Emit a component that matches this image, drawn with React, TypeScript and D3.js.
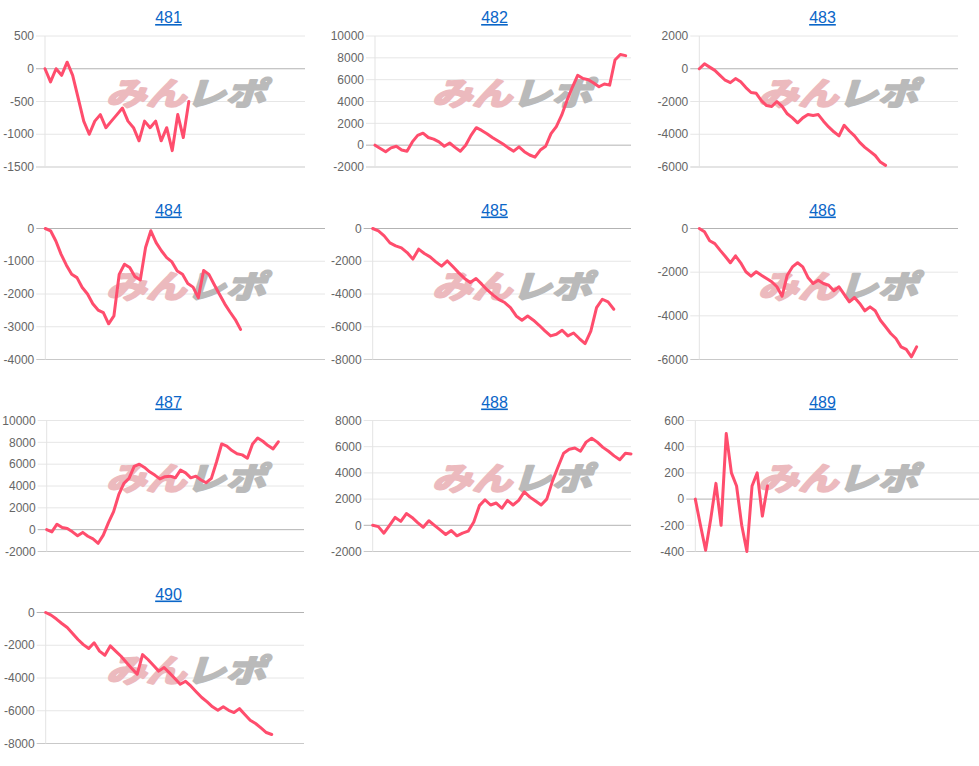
import React from 'react';
import * as d3 from 'd3';

const titles = ['481', '482', '483', '484', '485', '486', '487', '488', '489', '490'];

const s481 = [0, -200, 0, -100, 100, -100, -450, -800, -1000, -800, -700, -900, -800, -700, -600, -800, -900, -1100, -800, -900, -800, -1100, -900, -1250, -700, -1050, -500];
const s482 = [0, -300, -600, -250, -100, -450, -550, 300, 900, 1100, 700, 550, 300, -100, 200, -200, -550, 0, 900, 1600, 1350, 1050, 700, 400, 100, -250, -550, -150, -600, -900, -1100, -450, -100, 1050, 1700, 2750, 4100, 5300, 6400, 6100, 6000, 5700, 5350, 5600, 5500, 7800, 8300, 8200];
const s483 = [0, 300, 100, -100, -400, -700, -850, -600, -800, -1150, -1450, -1500, -1950, -2250, -2300, -2000, -2300, -2750, -3000, -3300, -3000, -2800, -2850, -2800, -3200, -3550, -3850, -4100, -3450, -3800, -4100, -4500, -4800, -5050, -5300, -5700, -5900];
const s484 = [0, -70, -380, -790, -1120, -1400, -1500, -1800, -2000, -2300, -2490, -2570, -2910, -2670, -1400, -1090, -1190, -1470, -1570, -580, -70, -430, -680, -890, -1020, -1300, -1400, -1680, -1790, -2110, -1280, -1400, -1710, -2010, -2300, -2550, -2780, -3080];
const s485 = [0, -150, -450, -880, -1060, -1180, -1470, -1870, -1260, -1530, -1730, -2040, -2300, -1980, -2340, -2710, -3050, -3300, -3050, -3400, -3770, -4070, -4340, -4520, -4830, -5340, -5600, -5340, -5600, -5910, -6250, -6560, -6460, -6210, -6560, -6380, -6720, -7030, -6270, -4830, -4320, -4480, -4930];
const s486 = [0, -150, -560, -690, -990, -1270, -1570, -1250, -1570, -1980, -2180, -1980, -2140, -2290, -2440, -2670, -3100, -2140, -1760, -1570, -1760, -2240, -2520, -2370, -2520, -2600, -2850, -2670, -3020, -3360, -3160, -3430, -3770, -3590, -3770, -4200, -4500, -4810, -5040, -5420, -5540, -5880, -5420];
const s487 = [0, -200, 500, 200, 100, -200, -550, -250, -600, -850, -1250, -500, 650, 1650, 3200, 4250, 4700, 5800, 6000, 5700, 5300, 5000, 4650, 4850, 4900, 4750, 5450, 5200, 4750, 4900, 4550, 4300, 4700, 6200, 7850, 7650, 7250, 6950, 6850, 6550, 7850, 8400, 8100, 7700, 7400, 8050];
const s488 = [0, -100, -600, 0, 600, 300, 900, 600, 200, -150, 350, 0, -350, -700, -400, -800, -600, -450, 250, 1500, 1950, 1550, 1700, 1300, 1900, 1550, 1900, 2550, 2150, 1850, 1550, 2000, 3350, 4450, 5500, 5800, 5900, 5650, 6350, 6650, 6350, 5950, 5650, 5300, 5000, 5500, 5450];
const s489 = [0, -200, -390, -150, 120, -200, 500, 200, 100, -200, -400, 100, 200, -130, 100];
const s490 = [0, -160, -400, -670, -920, -1280, -1650, -1960, -2200, -1850, -2360, -2610, -2040, -2360, -2670, -3050, -3420, -3770, -2570, -2870, -3220, -3580, -3360, -3690, -4030, -4380, -4200, -4500, -4850, -5190, -5460, -5760, -5970, -5760, -5970, -6110, -5870, -6230, -6580, -6780, -7050, -7330, -7450];

const t481 = [500, 0, -500, -1000, -1500];
const t482 = [10000, 8000, 6000, 4000, 2000, 0, -2000];
const t483 = [2000, 0, -2000, -4000, -6000];
const t484 = [0, -1000, -2000, -3000, -4000];
const t485 = [0, -2000, -4000, -6000, -8000];
const t486 = [0, -2000, -4000, -6000];
const t487 = [10000, 8000, 6000, 4000, 2000, 0, -2000];
const t488 = [8000, 6000, 4000, 2000, 0, -2000];
const t489 = [600, 400, 200, 0, -200, -400];
const t490 = [0, -2000, -4000, -6000, -8000];

// number of x-slots (category intervals) on each chart's x axis
const slotCounts = [47, 48, 50, 53, 45, 50, 50, 46, 55, 48];

const seriesList = [s481, s482, s483, s484, s485, s486, s487, s488, s489, s490];
const tickList = [t481, t482, t483, t484, t485, t486, t487, t488, t489, t490];

// layout
const COLS = [0, 326, 652];
const ROWS = [0, 192.5, 384.5, 576.5];
const LEFTS = [45, 49, 47.3, 45.3, 46.7, 47.3, 46.7, 46.7, 43.3, 45.7];
const RIGHTS = [305, 305, 306, 325, 305, 306, 304, 305, 327, 304];
const FONT = '"Liberation Sans", Arial, sans-serif';
const LINE_COLOR = '#ff4d6d';

function Watermark({ x, y }: { x: number; y: number }) {
  return (
    <g transform={`translate(${x},${y}) scale(1.14,0.9) skewX(-14)`}>
      <text
        x={0}
        y={0}
        fontFamily='"Noto Sans CJK JP", sans-serif'
        fontWeight={700}
        fontSize={35}
        strokeWidth={2.6}
        strokeLinejoin="round"
      >
        <tspan fill="#ecbabe" stroke="#ecbabe">みん</tspan>
        <tspan fill="#bababa" stroke="#bababa">レポ</tspan>
      </text>
    </g>
  );
}

function Panel({ i }: { i: number }) {
  const col = i % 3;
  const row = Math.floor(i / 3);
  const x0 = COLS[col];
  const rowTop = ROWS[row];
  const left = x0 + LEFTS[i];
  const right = x0 + RIGHTS[i];
  const top = rowTop + 36;
  const bottom = rowTop + 167;
  const ticks = tickList[i];
  const data = seriesList[i];
  const yMin = d3.min(ticks) as number;
  const yMax = d3.max(ticks) as number;
  const y = d3.scaleLinear().domain([yMin, yMax]).range([bottom, top]);
  const x = d3.scaleLinear().domain([0, slotCounts[i]]).range([left, right]);
  const line = d3
    .line<number>()
    .x((_, j) => x(j))
    .y((d) => y(d));

  return (
    <g>
      <text
        x={x0 + (col === 2 ? 170.5 : 168.5)}
        y={rowTop + 23}
        textAnchor="middle"
        fontFamily={FONT}
        fontSize={16}
        fill="#0a66c8"
        style={{ textDecoration: 'underline' }}
      >
        {titles[i]}
      </text>
      {ticks.map((t) => (
        <g key={t}>
          <line
            x1={left - 9}
            x2={right}
            y1={y(t)}
            y2={y(t)}
            stroke={t === 0 ? '#b3b3b3' : t === yMin ? '#c9c9c9' : '#e6e6e6'}
            strokeWidth={1}
          />
          <text
            x={left - 11}
            y={y(t)}
            dy="0.35em"
            textAnchor="end"
            fontFamily={FONT}
            fontSize={12}
            fill="#666"
          >
            {t}
          </text>
        </g>
      ))}
      <line x1={left} x2={left} y1={top} y2={bottom} stroke="#e3e3e3" strokeWidth={1} />
      <Watermark x={x0 + 106} y={rowTop + 105} />
      <path
        d={line(data) || ''}
        fill="none"
        stroke={LINE_COLOR}
        strokeWidth={3}
        strokeLinejoin="round"
        strokeLinecap="round"
      />
    </g>
  );
}

export default function App() {
  return (
    <svg
      width={979}
      height={766}
      style={{ position: 'absolute', left: 0, top: 0, background: '#fff' }}
    >
      {titles.map((_, i) => (
        <Panel key={i} i={i} />
      ))}
    </svg>
  );
}
